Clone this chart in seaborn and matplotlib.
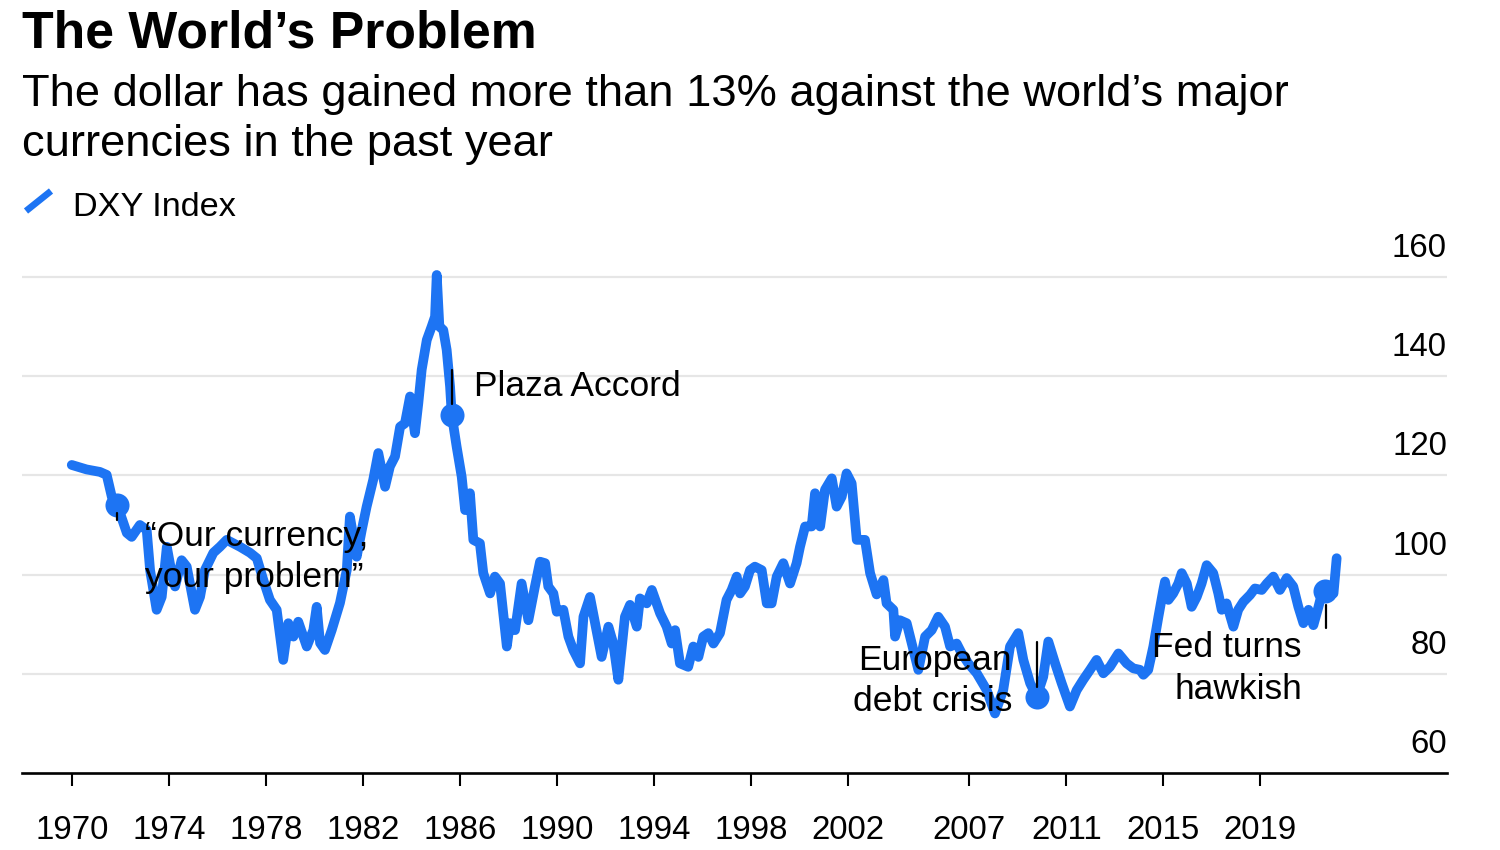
import numpy as np
import pandas as pd
import matplotlib
matplotlib.use("Agg")
import matplotlib.pyplot as plt
import matplotlib.transforms as mtransforms
from matplotlib.lines import Line2D
import seaborn as sns

# ---------------- data ----------------
years = [1969.99, 1970.60, 1971.15, 1971.43, 1971.64, 1971.84, 1971.98, 1972.26, 1972.46,
         1972.80, 1973.08, 1973.22, 1973.49, 1973.70, 1973.91, 1974.11, 1974.25, 1974.52,
         1974.73, 1975.07, 1975.28, 1975.48, 1975.83, 1976.10, 1976.38, 1976.93, 1977.34,
         1977.62, 1977.89, 1978.16, 1978.44, 1978.71, 1978.92, 1979.13, 1979.33, 1979.68,
         1979.95, 1980.09, 1980.23, 1980.43, 1980.71, 1981.05, 1981.19, 1981.33, 1981.46,
         1981.74, 1981.95, 1982.15, 1982.42, 1982.63, 1982.91, 1983.11, 1983.32, 1983.53,
         1983.73, 1983.94, 1984.14, 1984.28, 1984.42, 1984.63, 1984.83, 1984.97, 1985.04,
         1985.15, 1985.31, 1985.45, 1985.59, 1985.66, 1985.86, 1986.07, 1986.21, 1986.41,
         1986.55, 1986.82, 1986.96, 1987.24, 1987.44, 1987.65, 1987.93, 1988.06, 1988.27,
         1988.54, 1988.82, 1989.09, 1989.30, 1989.51, 1989.64, 1989.85, 1989.99, 1990.26,
         1990.47, 1990.67, 1990.95, 1991.09, 1991.36, 1991.57, 1991.84, 1992.12, 1992.32,
         1992.53, 1992.80, 1993.01, 1993.29, 1993.42, 1993.70, 1993.91, 1994.25, 1994.52,
         1994.73, 1994.87, 1995.07, 1995.41, 1995.62, 1995.83, 1996.03, 1996.24, 1996.45,
         1996.72, 1996.99, 1997.20, 1997.41, 1997.55, 1997.75, 1997.96, 1998.16, 1998.44,
         1998.65, 1998.85, 1999.06, 1999.33, 1999.61, 1999.88, 2000.02, 2000.23, 2000.50,
         2000.64, 2000.85, 2001.05, 2001.33, 2001.53, 2001.74, 2001.94, 2002.15, 2002.36,
         2002.70, 2002.91, 2003.18, 2003.46, 2003.59, 2003.87, 2003.94, 2004.14, 2004.42,
         2004.63, 2004.90, 2005.18, 2005.45, 2005.72, 2006.00, 2006.21, 2006.48, 2006.69,
         2006.96, 2007.31, 2007.72, 2008.06, 2008.40, 2008.68, 2009.02, 2009.23, 2009.51,
         2009.78, 2010.05, 2010.26, 2010.54, 2010.81, 2011.15, 2011.43, 2011.70, 2011.98,
         2012.25, 2012.53, 2012.80, 2013.15, 2013.49, 2013.76, 2014.04, 2014.18, 2014.38,
         2014.59, 2014.80, 2015.00, 2015.07, 2015.21, 2015.41, 2015.62, 2015.76, 2015.97,
         2016.17, 2016.38, 2016.58, 2016.79, 2017.06, 2017.27, 2017.41, 2017.61, 2017.89,
         2018.09, 2018.30, 2018.58, 2018.78, 2019.06, 2019.27, 2019.54, 2019.81, 2020.09,
         2020.36, 2020.57, 2020.78, 2020.99, 2021.19, 2021.40, 2021.54, 2021.67, 2021.88,
         2022.02, 2022.15]
dxy = [122.1, 121.2, 120.7, 120.1, 115.7, 114.0, 112.4, 108.4, 107.6,
       110.0, 109.0, 100.9, 92.9, 95.5, 105.6, 100.3, 97.6, 102.9,
       101.6, 92.9, 95.5, 100.9, 104.4, 105.6, 107.0, 105.6, 104.4,
       103.3, 98.9, 94.9, 92.9, 82.8, 90.2, 87.5, 90.5, 85.5,
       88.8, 93.5, 86.2, 84.8, 88.8, 94.3, 97.6, 100.9, 111.7,
       103.6, 109.0, 113.7, 119.1, 124.5, 117.7, 121.8, 123.8, 129.8,
       130.5, 135.9, 128.5, 134.5, 141.3, 147.3, 150.0, 152.0, 160.4,
       150.0, 149.3, 145.3, 137.9, 132.2, 125.8, 119.7, 113.0, 116.4,
       107.0, 106.3, 100.3, 96.2, 99.6, 98.2, 85.5, 90.2, 88.8,
       98.2, 90.8, 97.6, 102.6, 102.3, 97.6, 96.2, 92.5, 92.9,
       87.5, 84.8, 82.1, 91.5, 95.5, 90.2, 83.4, 89.5, 86.1,
       78.8, 91.5, 93.9, 89.5, 95.2, 94.2, 96.9, 92.2, 89.5,
       86.1, 88.8, 82.1, 81.4, 85.5, 83.4, 87.5, 88.2, 86.1,
       88.2, 94.9, 96.9, 99.6, 96.2, 97.6, 100.9, 101.6, 100.9,
       94.2, 94.2, 99.6, 102.3, 98.2, 102.3, 105.6, 109.7, 109.7,
       116.4, 109.7, 117.1, 119.4, 113.7, 115.7, 120.4, 118.4, 107.0,
       107.0, 100.3, 96.0, 98.9, 94.2, 92.9, 87.5, 90.8, 90.2,
       86.1, 80.8, 87.5, 88.8, 91.5, 89.5, 85.5, 86.1, 84.1,
       82.1, 80.1, 76.7, 72.0, 76.7, 85.5, 88.2, 82.8, 78.1,
       75.4, 79.4, 86.5, 82.1, 78.1, 73.4, 76.7, 78.8, 80.8,
       82.8, 80.1, 81.4, 84.1, 82.1, 81.1, 80.8, 79.8, 80.8,
       85.5, 91.5, 96.9, 98.6, 94.9, 96.2, 98.2, 100.3, 98.2,
       93.5, 95.5, 98.2, 101.9, 100.3, 96.2, 92.9, 94.2, 89.5,
       92.9, 94.5, 95.9, 97.2, 96.9, 98.2, 99.6, 96.9, 99.3,
       97.6, 93.5, 90.2, 92.9, 89.8, 93.5, 96.2, 96.6, 96.9,
       96.2, 103.3]

event_years = [1971.84, 1985.66, 2009.78, 2021.67]
event_values = [114.0, 132.2, 75.4, 96.6]

x_tick_years = [1970, 1974, 1978, 1982, 1986, 1990, 1994, 1998, 2002, 2007, 2011, 2015, 2019]
y_ticks = [60, 80, 100, 120, 140, 160]

title = "The World\u2019s Problem"
subtitle = "The dollar has gained more than 13% against the world\u2019s major\ncurrencies in the past year"
series_name = "DXY Index"

# ---------------- style ----------------
sns.set_theme(style="white")
plt.rcParams['font.family'] = ['Liberation Sans', 'DejaVu Sans']

BLUE = "#1d74f3"
W, H = 1500, 850
fig = plt.figure(figsize=(15, 8.5), dpi=100)
fig.patch.set_facecolor("white")

def fx(px):
    return px / W

def fy(py):
    return 1 - py / H

ax_left, ax_right, ax_top, ax_bottom = 22, 1447, 247.2, 773
ax = fig.add_axes([fx(ax_left), fy(ax_bottom), (ax_right - ax_left) / W, (ax_bottom - ax_top) / H])
ax.set_facecolor("white")

df = pd.DataFrame({"year": years, "DXY": dxy})
ev = pd.DataFrame({"year": event_years, "DXY": event_values})

# gridlines
for v in y_ticks[1:]:
    ax.axhline(v, color="#e6e6e6", lw=1.6, zorder=0)

sns.lineplot(data=df, x="year", y="DXY", ax=ax, color=BLUE, lw=7.0, estimator=None,
             legend=False, zorder=3)
for ln in ax.lines[-1:]:
    ln.set_solid_joinstyle("round")
    ln.set_solid_capstyle("round")
sns.scatterplot(data=ev, x="year", y="DXY", ax=ax, color=BLUE, s=300, linewidth=0,
                legend=False, zorder=4)

ax.set_xlim(1967.938, 2026.70)
ax.set_ylim(60, 166)

# spines
for s in ["top", "left", "right"]:
    ax.spines[s].set_visible(False)
ax.spines["bottom"].set_color("black")
ax.spines["bottom"].set_linewidth(1.9)
ax.spines["bottom"].set_zorder(5)

ax.set_xticks(x_tick_years)
ax.set_xticklabels([str(y) for y in x_tick_years])
ax.tick_params(axis="x", direction="out", length=9.4, width=1.5, color="black",
               pad=20.5, labelsize=23.8, labelcolor="black", bottom=True)

ax.set_yticks(y_ticks)
ax.set_yticklabels([str(v) for v in y_ticks])
ax.yaxis.tick_right()
ax.tick_params(axis="y", length=0, pad=0, labelsize=23.8, labelcolor="black",
               left=False, right=False, labelleft=False, labelright=True)
offset = mtransforms.ScaledTranslation(0, 32 / 100, fig.dpi_scale_trans)
for lab in ax.get_yticklabels():
    lab.set_horizontalalignment("right")
    lab.set_transform(lab.get_transform() + offset)

ax.set_xlabel("")
ax.set_ylabel("")
ax.grid(False)

# ---------------- annotations ----------------
ann = dict(fontsize=25.5, color="black", zorder=6)
ax.plot([1985.66, 1985.66], [134.3, 141.2], color="black", lw=1.6, zorder=5)
ax.text(1986.58, 136.0, "Plaza Accord", ha="left", va="baseline", **ann)

ax.plot([1971.86, 1971.86], [111.0, 112.4], color="black", lw=1.6, zorder=5)
ax.text(1973.01, 105.8, "\u201cOur currency,", ha="left", va="baseline", **ann)
ax.text(1973.01, 97.5, "your problem\u201d", ha="left", va="baseline", **ann)

ax.plot([2009.80, 2009.80], [77.4, 86.5], color="black", lw=1.6, zorder=5)
ax.text(2008.76, 80.8, "European", ha="right", va="baseline", **ann)
ax.text(2008.76, 72.5, "debt crisis", ha="right", va="baseline", **ann)

ax.plot([2021.73, 2021.73], [89.2, 93.9], color="black", lw=1.6, zorder=5)
ax.text(2020.72, 83.4, "Fed turns", ha="right", va="baseline", **ann)
ax.text(2020.72, 74.9, "hawkish", ha="right", va="baseline", **ann)

# ---------------- titles & legend ----------------
fig.text(fx(22), fy(47), title, fontsize=37.3, fontweight="bold", ha="left", va="baseline",
         color="black")
sub1, sub2 = subtitle.split("\n")
fig.text(fx(22), fy(106), sub1, fontsize=32.6, ha="left", va="baseline", color="black")
fig.text(fx(22), fy(156), sub2, fontsize=32.6, ha="left", va="baseline", color="black")

fig.add_artist(Line2D([fx(26), fx(51)], [fy(211), fy(191)], color=BLUE, lw=4.8,
                      solid_capstyle="butt", transform=fig.transFigure))
fig.text(fx(73), fy(216), series_name, fontsize=24.7, ha="left", va="baseline", color="black")

fig.savefig("out.png", dpi=100, facecolor="white")
